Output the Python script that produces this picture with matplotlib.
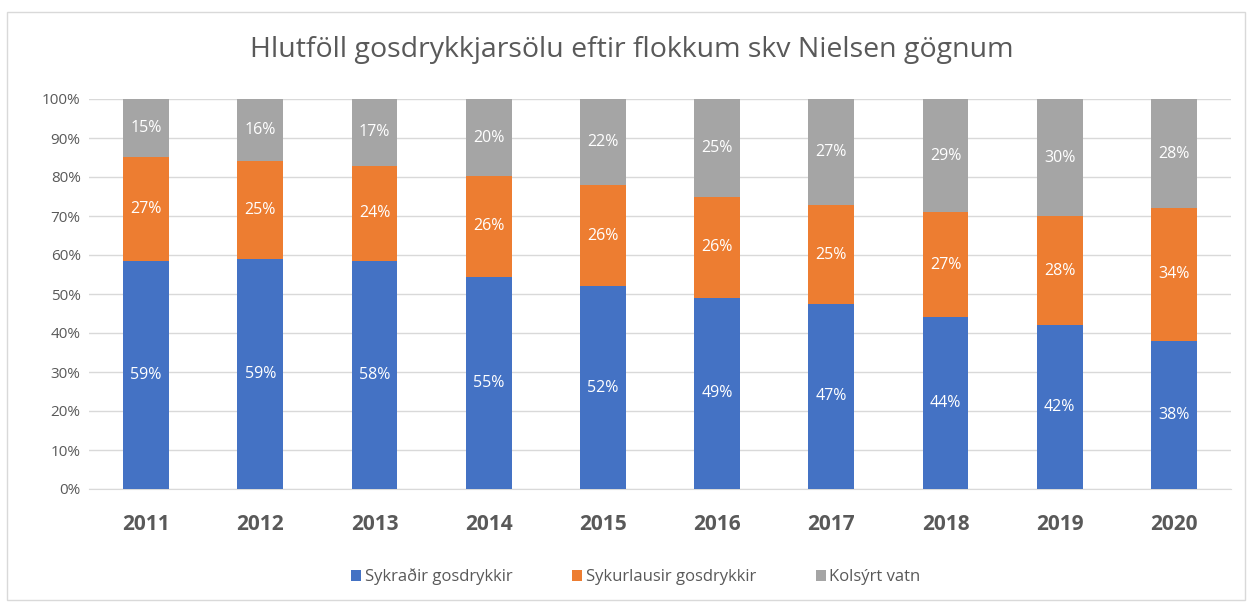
import matplotlib
matplotlib.use("Agg")
import matplotlib.pyplot as plt
from matplotlib.patches import Rectangle
import numpy as np

years = ["2011", "2012", "2013", "2014", "2015", "2016", "2017", "2018", "2019", "2020"]
sykradir = [59, 59, 58, 55, 52, 49, 47, 44, 42, 38]
sykurlausir = [27, 25, 24, 26, 26, 26, 25, 27, 28, 34]
kolsyrt = [15, 16, 17, 20, 22, 25, 27, 29, 30, 28]
series_names = ["Sykraðir gosdrykkir", "Sykurlausir gosdrykkir", "Kolsýrt vatn"]
colors = ["#4472C4", "#ED7D31", "#A5A5A5"]
title = "Hlutföll gosdrykkjarsölu eftir flokkum skv Nielsen gögnum"

plt.rcParams['font.family'] = ['Open Sans', 'DejaVu Sans']

fig = plt.figure(figsize=(12.52, 6.04), dpi=100)
fig.patches.append(Rectangle((7/1252, 4/604), 1238/1252, 588/604, transform=fig.transFigure,
                             fill=False, edgecolor="#D9D9D9", linewidth=1))
ax = fig.add_axes([89/1252, 1 - 489/604, 1142/1252, 390/604])

data = np.array([sykradir, sykurlausir, kolsyrt], dtype=float)
totals = data.sum(axis=0)
pct = data / totals * 100
x = np.arange(len(years))
bottom = np.zeros(len(years))
for i in range(3):
    ax.bar(x, pct[i], 0.40, bottom=bottom, color=colors[i], label=series_names[i], zorder=3)
    for j in range(len(years)):
        ax.text(x[j], bottom[j] + pct[i][j] / 2, f"{int(data[i][j])}%", ha="center", va="center",
                color="white", fontsize=11.5, zorder=4)
    bottom += pct[i]

ax.set_xlim(-0.5, len(years) - 0.5)
ax.set_ylim(0, 100)
ax.set_yticks(np.arange(0, 101, 10))
ax.set_yticklabels([f"{v}%" for v in range(0, 101, 10)], color="#595959", fontsize=11)
ax.set_xticks(x)
ax.set_xticklabels(years, color="#595959", fontsize=15, fontweight="bold")
ax.tick_params(axis="both", length=0)
ax.tick_params(axis="x", pad=18)
ax.tick_params(axis="y", pad=6)
ax.grid(axis="y", color="#D9D9D9", linewidth=1, zorder=0)
for s in ax.spines.values():
    s.set_visible(False)
ax.spines["bottom"].set_visible(True)
ax.spines["bottom"].set_color("#D9D9D9")

fig.text(632/1252, 1 - 50/604, title, ha="center", va="center", fontsize=20.5, color="#595959")

leg = fig.legend(loc="center", bbox_to_anchor=(636/1252, 1 - 577/604), ncol=3, frameon=False,
                 fontsize=12, handlelength=0.6, handleheight=0.6, handletextpad=0.2,
                 columnspacing=3.6, labelcolor="#595959")

fig.savefig("out.png", dpi=100)
